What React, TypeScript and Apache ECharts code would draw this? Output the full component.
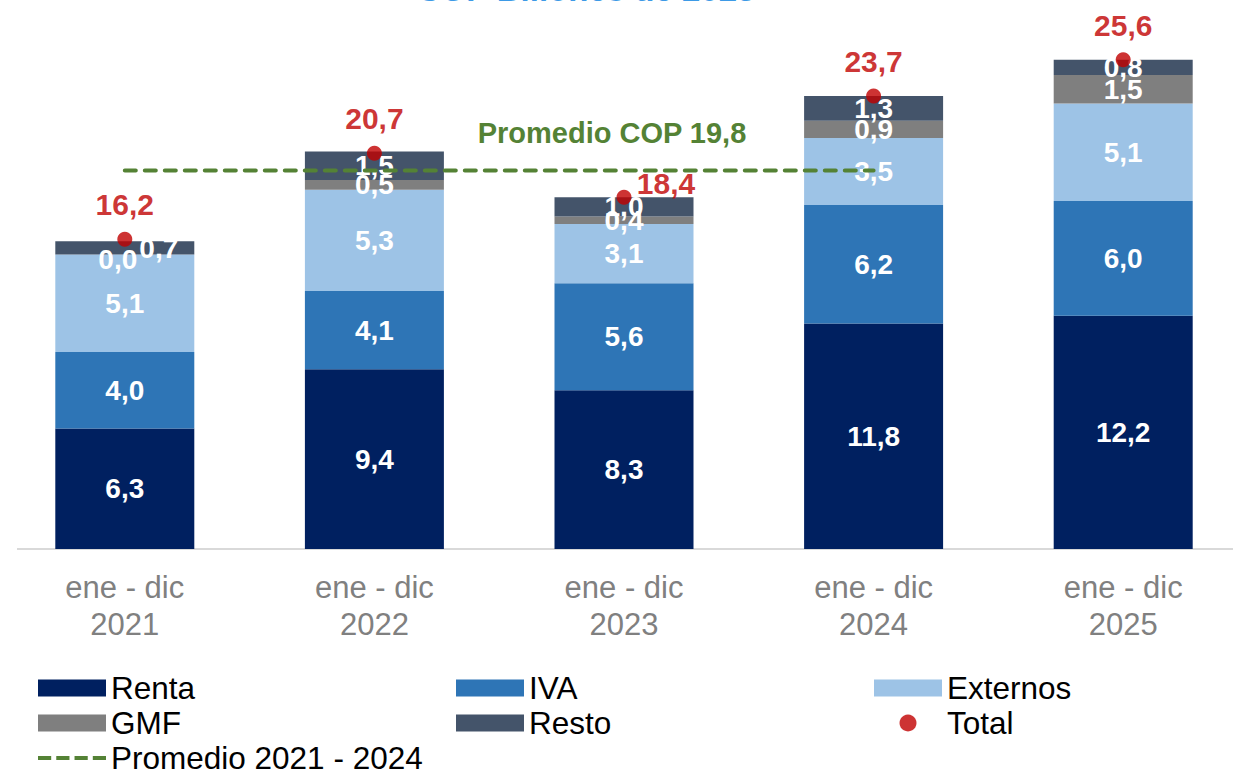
import React, { useEffect, useRef } from "react";
import * as echarts from "echarts";

const categories = ["ene - dic\n2021", "ene - dic\n2022", "ene - dic\n2023", "ene - dic\n2024", "ene - dic\n2025"];
const renta = [6.3, 9.4, 8.3, 11.8, 12.2];
const iva = [4.0, 4.1, 5.6, 6.2, 6.0];
const externos = [5.1, 5.3, 3.1, 3.5, 5.1];
const gmf = [0.0, 0.5, 0.4, 0.9, 1.5];
const resto = [0.7, 1.5, 1.0, 1.3, 0.8];
const total = [16.2, 20.7, 18.4, 23.7, 25.6];
const promedioValue = 19.8;
const promedio = [promedioValue, promedioValue, promedioValue, promedioValue, null];

const FONT = "'Liberation Sans', Arial, sans-serif";
const fmt = (v: number) => v.toFixed(1).replace(".", ",");

// label nudges (Excel-like overlaps) for a few points
const gmfOffsets: Record<number, number[]> = { 0: [-7, 5] };
const restoOffsets: Record<number, number[]> = { 0: [34, 1] };
const totalOffsets: Record<number, number[]> = { 2: [42, 21] };

const DASH_ICON =
  "path://M0,0h13v4h-13z M18,0h13v4h-13z M36,0h13v4h-13z M54,0h13v4h-13z";

const barLabel = {
  show: true,
  position: "inside",
  color: "#ffffff",
  fontFamily: FONT,
  fontWeight: "bold",
  fontSize: 28,
  formatter: (p: any) => fmt(p.value),
};

function withOffsets(values: number[], offsets: Record<number, number[]>) {
  return values.map((v, i) =>
    offsets[i] ? { value: v, label: { offset: offsets[i] } } : v
  );
}

export default function App() {
  const ref = useRef<HTMLDivElement>(null);
  useEffect(() => {
    if (!ref.current) return;
    const chart = echarts.init(ref.current, null, { renderer: "svg" });
    const barSeries = (name: string, data: any[], color: string) => ({
      name,
      type: "bar",
      stack: "total",
      barWidth: 139,
      data,
      itemStyle: { color },
      label: barLabel,
      z: 2,
    });
    const legendBase = {
      orient: "vertical",
      top: 672,
      height: 110,
      padding: 0,
      itemGap: 3,
      itemWidth: 68,
      itemHeight: 17,
      textStyle: { fontFamily: FONT, fontSize: 31.5, color: "#000000", lineHeight: 31 },
    };
    chart.setOption({
      animation: false,
      textStyle: { fontFamily: FONT },
      grid: { left: 0, width: 1248, top: 52, height: 497, outerBoundsMode: "none", containLabel: false },
      xAxis: {
        type: "category",
        data: categories,
        axisLine: { show: false },
        axisTick: { show: false },
        axisLabel: { color: "#808080", fontSize: 31, lineHeight: 37, margin: 20, fontFamily: FONT, interval: 0 },
      },
      yAxis: { type: "value", min: 0, max: 26, show: false, splitLine: { show: false } },
      legend: [
        {
          ...legendBase,
          left: 38,
          data: [
            { name: "Renta", icon: "rect" },
            { name: "GMF", icon: "rect" },
            { name: "Promedio 2021 - 2024", icon: DASH_ICON },
          ],
        },
        {
          ...legendBase,
          left: 456,
          data: [
            { name: "IVA", icon: "rect" },
            { name: "Resto", icon: "rect" },
          ],
        },
        {
          ...legendBase,
          left: 874,
          data: [
            { name: "Externos", icon: "rect" },
            { name: "Total", icon: "circle" },
          ],
        },
      ],
      graphic: [
        {
          type: "line",
          shape: { x1: 17, y1: 549, x2: 1233, y2: 549 },
          style: { stroke: "#d9d9d9", lineWidth: 2 },
          z: 0,
        },
        {
          type: "text",
          x: 586,
          y: 6,
          style: {
            text: "COP Billones de 2025",
            fill: "#3d9ae6",
            font: `bold 33px ${FONT}`,
            align: "center",
            verticalAlign: "bottom",
          },
        },
        {
          type: "text",
          x: 612,
          y: 133,
          z: 10,
          style: {
            text: `Promedio COP ${fmt(promedioValue)}`,
            fill: "#548235",
            font: `bold 29px ${FONT}`,
            align: "center",
            verticalAlign: "middle",
          },
        },
      ],
      series: [
        barSeries("Renta", renta, "#002060"),
        barSeries("IVA", iva, "#2e75b6"),
        barSeries("Externos", externos, "#9dc3e6"),
        barSeries("GMF", withOffsets(gmf, gmfOffsets), "#7f7f7f"),
        barSeries("Resto", withOffsets(resto, restoOffsets), "#44546a"),
        {
          name: "Promedio 2021 - 2024",
          type: "line",
          data: promedio,
          symbol: "none",
          showSymbol: false,
          lineStyle: { color: "#548235", width: 4, type: [11, 9], cap: "round" },
          itemStyle: { color: "#548235" },
          z: 5,
        },
        {
          name: "Total",
          type: "scatter",
          data: withOffsets(total, totalOffsets),
          symbol: "circle",
          symbolSize: 15,
          itemStyle: { color: "#c00000" },
          label: {
            show: true,
            position: "top",
            distance: 12,
            color: "#c00000",
            fontFamily: FONT,
            fontWeight: "bold",
            fontSize: 30,
            formatter: (p: any) => fmt(p.value),
          },
          z: 6,
        },
      ],
    });
    return () => chart.dispose();
  }, []);
  return (
    <div
      ref={ref}
      style={{ position: "absolute", left: 0, top: 0, width: 1233, height: 771 }}
    />
  );
}
